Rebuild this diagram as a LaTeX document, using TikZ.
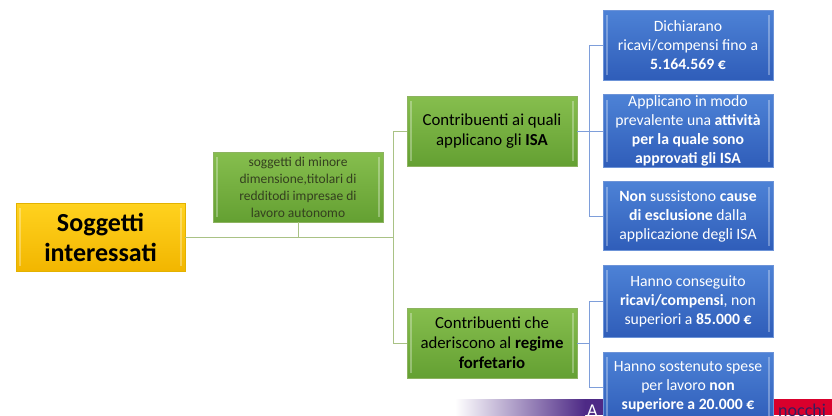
\documentclass[tikz,border=0pt]{standalone}
\usepackage{fontspec}
\setmainfont{Carlito}
\definecolor{gold1}{HTML}{FFD21F}
\definecolor{gold2}{HTML}{F2B600}
\definecolor{goldline}{HTML}{E3B200}
\definecolor{grn1}{HTML}{86BE4E}
\definecolor{grn2}{HTML}{64A032}
\definecolor{grnline}{HTML}{8DB360}
\definecolor{grnlink}{HTML}{A9C285}
\definecolor{blu1}{HTML}{4D82D6}
\definecolor{blu2}{HTML}{2F5DB9}
\definecolor{bluline}{HTML}{6C93D8}
\definecolor{blulink}{HTML}{7E9EDA}
\definecolor{bandpurple}{HTML}{4E2A86}
\definecolor{bandred}{HTML}{D9002C}
\definecolor{smalltext}{HTML}{34401F}
\tikzset{
  bevel/.style={path picture={
      \draw[white,opacity=0.3,line width=1.3pt]
        ([xshift=4pt,yshift=-5pt]path picture bounding box.north west) --
        ([xshift=4pt,yshift=5pt]path picture bounding box.south west);
      \draw[white,opacity=0.3,line width=1.3pt]
        ([xshift=-4pt,yshift=-5pt]path picture bounding box.north east) --
        ([xshift=-4pt,yshift=5pt]path picture bounding box.south east);
  }},
  boxbase/.style={rectangle, align=center, inner sep=1pt, line width=0.6pt,
    minimum width=170pt, minimum height=70pt, bevel},
  yellowbox/.style={boxbase, minimum width=169pt, minimum height=68pt,
    top color=gold1, bottom color=gold2, draw=goldline,
    font=\fontsize{26}{30}\selectfont\bfseries, text=black},
  greenbox/.style={boxbase, top color=grn1, bottom color=grn2, draw=grnline,
    font=\fontsize{16.8}{20}\selectfont, text=black},
  smallbox/.style={greenbox, font=\fontsize{13.5}{17}\selectfont, text=smalltext},
  bluebox/.style={boxbase, top color=blu1, bottom color=blu2, draw=bluline,
    font=\fontsize{15.7}{19}\selectfont, text=white},
  glink/.style={draw=grnlink, line width=1pt},
  blink/.style={draw=blulink, line width=1pt},
}
\begin{document}
\begin{tikzpicture}[x=1pt,y=-1pt]
\useasboundingbox (0,0) rectangle (832,415);
\clip (0,0) rectangle (832,415);

% decorative band at the bottom edge
\shade[left color=white, right color=bandpurple] (455,399) rectangle (585,415);
\fill[bandpurple] (585,399) rectangle (690,415);
\fill[bandred] (690,399) rectangle (832,415);
\node[anchor=base west, inner sep=0pt, text=white, font=\fontsize{18}{18}\selectfont] (bandA) at (587,416.5) {A};
\node[anchor=base west, inner sep=0pt, text=bandpurple!70!black, font=\fontsize{18}{18}\selectfont] (bandB) at (778,416.5) {nocchi};

% nodes
\node[yellowbox] (root) at (100.5,237) {Soggetti\\interessati};
\node[smallbox] (small) at (298,187) {soggetti di minore\\dimensione,titolari di\\redditodi impresae di\\lavoro autonomo};
\node[greenbox] (isa) at (492,131) {Contribuenti ai quali\\applicano gli \textbf{ISA}};
\node[greenbox] (forf) at (492,343) {Contribuenti che\\aderiscono al \textbf{regime}\\\textbf{forfetario}};

\node[bluebox] (b1) at (688,45) {Dichiarano\\ricavi/compensi fino a\\\textbf{5.164.569 €}};
\node[bluebox] (b2) at (688,131) {Applicano in modo\\prevalente una \textbf{attività}\\\textbf{per la quale sono}\\\textbf{approvati gli ISA}};
\node[bluebox, minimum height=69pt] (b3) at (688,216) {\textbf{Non} sussistono \textbf{cause}\\\textbf{di esclusione} dalla\\applicazione degli ISA};
\node[bluebox, minimum height=72pt] (b4) at (688,301) {Hanno conseguito\\\textbf{ricavi/compensi}, non\\superiori a \textbf{85.000 €}};
\node[bluebox] (b5) at (688,387) {Hanno sostenuto spese\\per lavoro \textbf{non}\\\textbf{superiore a 20.000 €}};

% junction points of the connectors
\coordinate (gj) at (393,237);
\coordinate (gtop) at (393,131);
\coordinate (gbot) at (393,343);
\coordinate (bj1) at (589,131);
\coordinate (bj2) at (589,343);

% green connectors
\draw[glink] (root.east) -- (gj);
\draw[glink] (small.south) -- (small.south |- gj);
\draw[glink] (gtop) -- (gbot);
\draw[glink] (gtop) -- (isa.west);
\draw[glink] (gbot) -- (forf.west);

% blue connectors
\draw[blink] (isa.east) -- (bj1);
\draw[blink] (bj1 |- b1.west) -- (bj1 |- b3.west);
\draw[blink] (bj1 |- b1.west) -- (b1.west);
\draw[blink] (bj1 |- b2.west) -- (b2.west);
\draw[blink] (bj1 |- b3.west) -- (b3.west);
\draw[blink] (forf.east) -- (bj2);
\draw[blink] (bj2 |- b4.west) -- (bj2 |- b5.west);
\draw[blink] (bj2 |- b4.west) -- (b4.west);
\draw[blink] (bj2 |- b5.west) -- (b5.west);
\end{tikzpicture}
\end{document}
